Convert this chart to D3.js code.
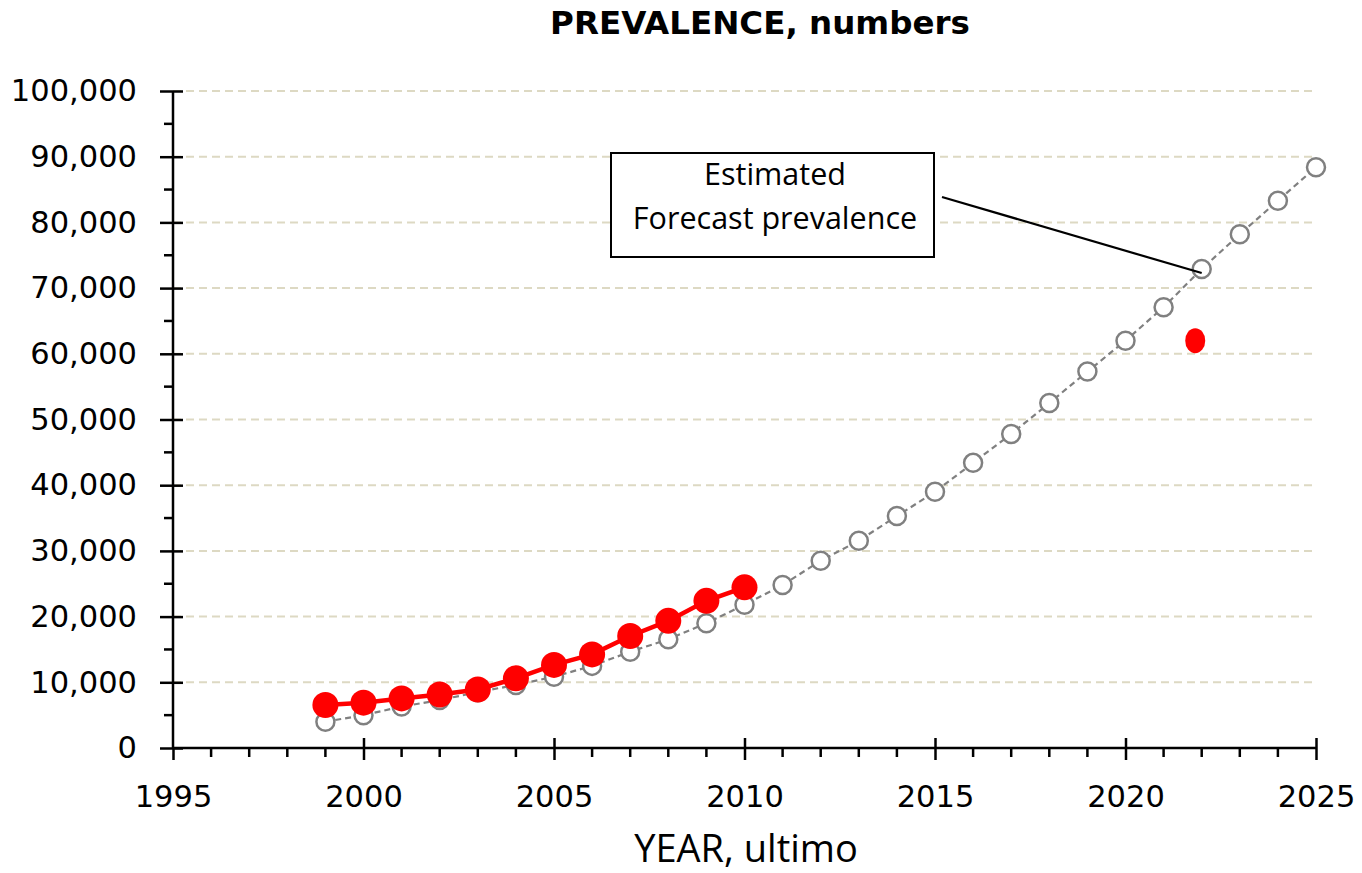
<!DOCTYPE html>
<html><head><meta charset="utf-8">
<script src="https://cdn.jsdelivr.net/npm/d3@7"></script>
<style>body{margin:0;background:#fff;} svg{display:block;}</style>
</head><body><svg id="c" width="1362" height="873"></svg>
<script>
const forecastYears = [1999,2000,2001,2002,2003,2004,2005,2006,2007,2008,2009,2010,2011,2012,2013,2014,2015,2016,2017,2018,2019,2020,2021,2022,2023,2024,2025];
const forecastValues = [4000,5000,6300,7300,8500,9600,10850,12500,14650,16550,19000,21800,24800,28500,31550,35300,39000,43400,47800,52500,57300,62000,67100,72900,78200,83300,88400];
const observedYears = [1999,2000,2001,2002,2003,2004,2005,2006,2007,2008,2009,2010];
const observedValues = [6550,6900,7550,8150,8900,10600,12650,14250,17050,19350,22400,24450];
const extraPointYear = [2021.83];
const extraPointValue = [62000];
const xTicks = [1995,2000,2005,2010,2015,2020,2025];
const yTicks = [0,10000,20000,30000,40000,50000,60000,70000,80000,90000,100000];
const titleText = "PREVALENCE, numbers";
const xTitle = "YEAR, ultimo";
const annotationLines = ["Estimated","Forecast prevalence"];

const svg = d3.select("#c");
const x = d3.scaleLinear().domain([1995,2025]).range([173,1316]);
const y = d3.scaleLinear().domain([0,100000]).range([748,91]);
const fmt = d3.format(",");

// gridlines
svg.append("g").selectAll("line").data(yTicks.filter(d=>d>0)).join("line")
  .attr("x1",x(1995)).attr("x2",x(2025)).attr("y1",d=>y(d)).attr("y2",d=>y(d))
  .attr("stroke","#ddd9c3").attr("stroke-width",2).attr("stroke-dasharray","8,5");

// y axis
const yAxis = svg.append("g").attr("transform",`translate(${x(1995)},0)`)
  .call(d3.axisLeft(y).tickValues(yTicks).tickFormat(fmt).tickSize(13).tickPadding(23));
yAxis.select(".domain").remove();
yAxis.selectAll(".tick line").attr("x2",-13).attr("stroke","#000").attr("stroke-width",2.5);
yAxis.selectAll(".tick").append("line").attr("x1",0).attr("x2",10).attr("stroke","#000").attr("stroke-width",2.5);
yAxis.selectAll("text").attr("font-family","DejaVu Sans").attr("font-size",30.5).attr("fill","#000");
svg.append("line").attr("x1",x(1995)).attr("x2",x(1995)).attr("y1",y(100000)).attr("y2",y(0)).attr("stroke","#000").attr("stroke-width",2.5);
// y minor ticks
const yMinor = d3.range(5000,100000,10000);
svg.append("g").selectAll("line").data(yMinor).join("line")
  .attr("x1",x(1995)-9).attr("x2",x(1995)).attr("y1",d=>y(d)).attr("y2",d=>y(d))
  .attr("stroke","#000").attr("stroke-width",2.5);

// x axis
const xAxis = svg.append("g").attr("transform",`translate(0,${y(0)})`)
  .call(d3.axisBottom(x).tickValues(xTicks).tickFormat(d3.format("d")).tickSize(12).tickPadding(25));
xAxis.select(".domain").remove();
xAxis.selectAll(".tick line").attr("stroke","#000").attr("stroke-width",2.5);
xAxis.selectAll(".tick").filter(d=>d>1995).append("line").attr("y1",0).attr("y2",-10).attr("stroke","#000").attr("stroke-width",2.5);
xAxis.selectAll("text").attr("font-family","DejaVu Sans").attr("font-size",30.5).attr("fill","#000");
svg.append("line").attr("x1",x(1995)).attr("x2",x(2025)).attr("y1",y(0)).attr("y2",y(0)).attr("stroke","#000").attr("stroke-width",2.5);
const xMinor = d3.range(1996,2025).filter(d=>d%5!==0);
svg.append("g").selectAll("line").data(xMinor).join("line")
  .attr("x1",d=>x(d)).attr("x2",d=>x(d)).attr("y1",y(0)).attr("y2",y(0)+9)
  .attr("stroke","#000").attr("stroke-width",2.5);

// forecast series
const fData = forecastYears.map((d,i)=>({x:d,y:forecastValues[i]}));
const line = d3.line().x(d=>x(d.x)).y(d=>y(d.y));
svg.append("path").datum(fData).attr("d",line).attr("fill","none")
  .attr("stroke","#808080").attr("stroke-width",2.2).attr("stroke-dasharray","6,4");
svg.append("g").selectAll("circle").data(fData).join("circle")
  .attr("cx",d=>x(d.x)).attr("cy",d=>y(d.y)).attr("r",9)
  .attr("fill","#fff").attr("stroke","#808080").attr("stroke-width",2.5);

// observed series
const oData = observedYears.map((d,i)=>({x:d,y:observedValues[i]}));
svg.append("path").datum(oData).attr("d",line).attr("fill","none")
  .attr("stroke","#ff0000").attr("stroke-width",4.5);
svg.append("g").selectAll("circle").data(oData).join("circle")
  .attr("cx",d=>x(d.x)).attr("cy",d=>y(d.y)).attr("r",13).attr("fill","#ff0000");

// extra point
svg.append("g").selectAll("ellipse").data(extraPointYear.map((d,i)=>({x:d,y:extraPointValue[i]}))).join("ellipse")
  .attr("cx",d=>x(d.x)).attr("cy",d=>y(d.y)).attr("rx",10).attr("ry",12.5).attr("fill","#ff0000");

// annotation
svg.append("line").attr("x1",942).attr("y1",197).attr("x2",x(2022)).attr("y2",y(72900)+4)
  .attr("stroke","#000").attr("stroke-width",2.2);
svg.append("rect").attr("x",611).attr("y",153).attr("width",323).attr("height",104)
  .attr("fill","#fff").attr("stroke","#000").attr("stroke-width",2);
svg.append("g").selectAll("text").data(annotationLines).join("text")
  .attr("x",775).attr("y",(d,i)=>185+i*44).attr("text-anchor","middle")
  .attr("font-family","Open Sans").attr("font-size",30.5).attr("fill","#000").text(d=>d);

// titles
svg.append("text").attr("x",760).attr("y",34).attr("text-anchor","middle")
  .attr("font-family","DejaVu Sans").attr("font-weight","bold").attr("font-size",32.5).text(titleText);
svg.append("text").attr("x",746).attr("y",862).attr("text-anchor","middle")
  .attr("font-family","Open Sans").attr("font-size",38).text(xTitle);
</script></body></html>
